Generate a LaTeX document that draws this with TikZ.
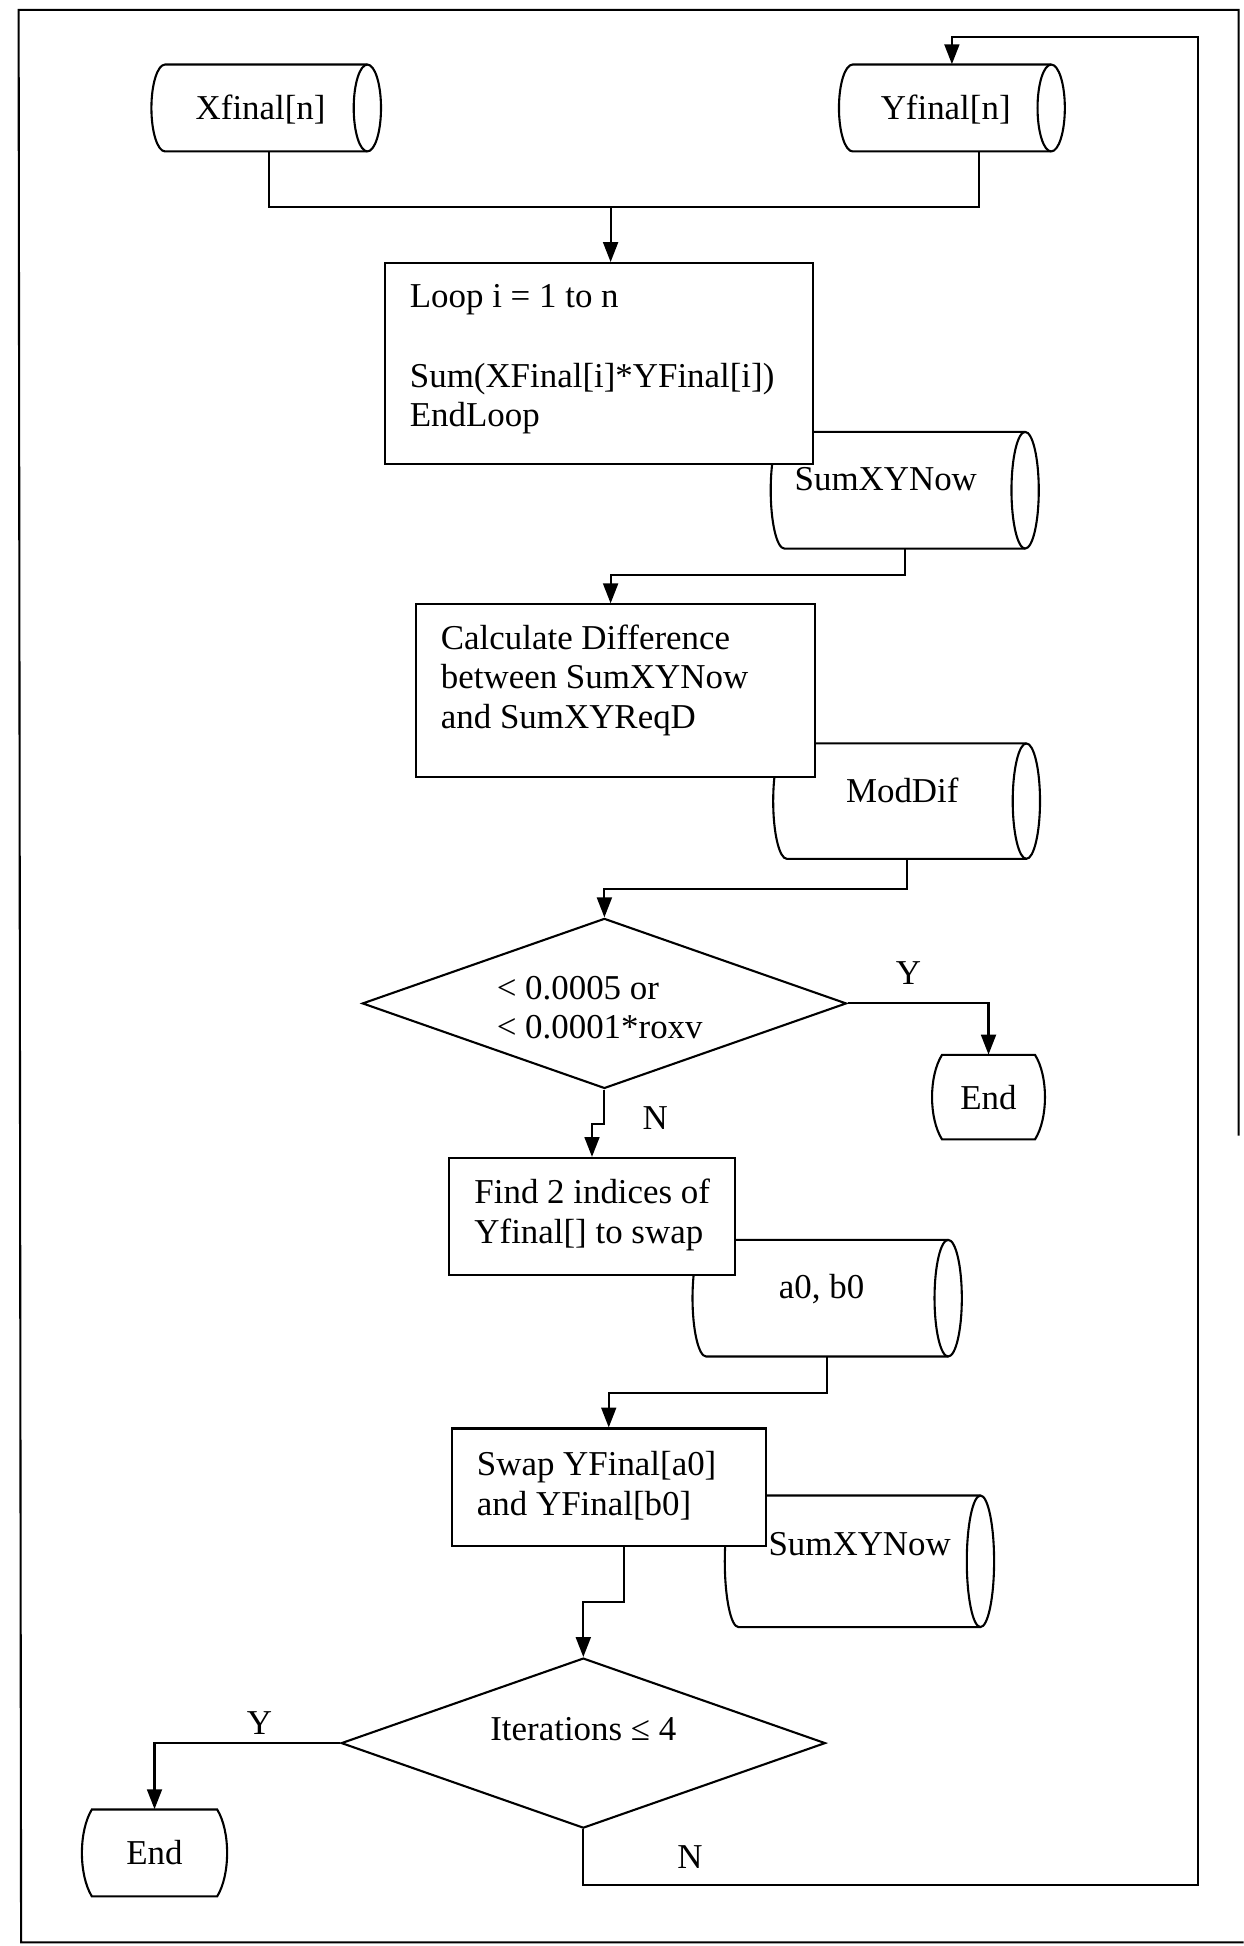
\documentclass[tikz,border=0pt]{standalone}
\usepackage{fontspec}
\setmainfont{Liberation Serif}
\usetikzlibrary{arrows.meta,calc,shapes.geometric}

\newcommand\fsz{\fontsize{20}{22.76}\selectfont}

% horizontal storage drum: name, left, top, right, bottom, cap x-radius
\newcommand\drum[6]{%
  \draw[ln, fill=white] ({#2+#6},-#3) -- ({#4-#6},-#3)
    arc[start angle=90, end angle=-90, x radius=#6, y radius={(#5-#3)/2}]
    -- ({#2+#6},-#5)
    arc[start angle=270, end angle=90, x radius=#6, y radius={(#5-#3)/2}] -- cycle;
  \draw[ln] ({#4-#6},-#3)
    arc[start angle=90, end angle=270, x radius=#6, y radius={(#5-#3)/2}];
  \node[inner sep=0pt, minimum width={(#4-#2)*0.025cm},
        minimum height={(#5-#3)*0.025cm}] (#1) at ({(#2+#4)/2},{-(#3+#5)/2}) {};
}

% terminal with bulging sides: name, left, top, right, bottom, label
\newcommand\terminal[6]{%
  \draw[ln, fill=white] ({#2+8},-#3) -- ({#4-8},-#3)
    .. controls ({#4+8/3},{-#3-(#5-#3)*0.25}) and ({#4+8/3},{-#5+(#5-#3)*0.25}) .. ({#4-8},-#5)
    -- ({#2+8},-#5)
    .. controls ({#2-8/3},{-#5+(#5-#3)*0.25}) and ({#2-8/3},{-#3-(#5-#3)*0.25}) .. cycle;
  \node[inner sep=0pt, minimum width={(#4-#2)*0.025cm},
        minimum height={(#5-#3)*0.025cm}] (#1) at ({(#2+#4)/2},{-(#3+#5)/2}) {#6};
}

\tikzset{
  ln/.style={line width=1.2pt},
  procbox/.style={draw, rectangle, fill=white, line width=1.2pt, inner sep=0pt},
  decision/.style={draw, diamond, fill=white, line width=1.2pt, inner sep=0pt},
  txt/.style={inner sep=0pt, align=left},
  arr/.style={line width=1.2pt, -{Triangle[length=0.4cm, width=0.3cm]}},
  every node/.style={font=\fsz},
}

\begin{document}
\begin{tikzpicture}[x=0.025cm, y=0.025cm]
\useasboundingbox (0,0) rectangle (1002,-1568);

% page frame
\draw[ln] (1002,-1565) -- (17,-1565) -- (15,-8) -- (998,-8) -- (998,-915);

% data stores
\drum{xf}{122}{52}{307}{122}{11}
\drum{yf}{676}{52}{858}{122}{11}
\drum{s1}{621}{348}{837}{442}{11}
\drum{md}{623}{599}{838}{692}{11}
\drum{ab}{558}{999}{775}{1093}{11}
\drum{s2}{584}{1205}{801}{1311}{11}

% process boxes
\node[procbox, minimum width=8.625cm, minimum height=4.05cm]  (loop) at (482.5,-293) {};
\node[procbox, minimum width=8.05cm,  minimum height=3.475cm] (calc) at (496,-556.5) {};
\node[procbox, minimum width=5.75cm,  minimum height=2.35cm]  (find) at (477,-980) {};
\node[procbox, minimum width=6.325cm, minimum height=2.375cm] (swap) at (490.5,-1198.5) {};

% decisions
\node[decision, minimum width=9.75cm, minimum height=3.425cm] (d1) at (487,-808.5) {};
\node[decision, minimum width=9.75cm, minimum height=3.425cm] (d2) at (470,-1404.5) {};

% terminals
\terminal{e1}{751}{850}{842}{918}{End}
\terminal{e2}{66}{1458}{183}{1528}{End}

% texts
\node[txt] (xft) at (210,-88) {Xfinal[n]};
\node[txt] (yft) at (762,-88) {Yfinal[n]};
\node[txt, anchor=north west] (loopt) at (330,-229)
  {Loop i = 1 to n\\[0.8cm]Sum(XFinal[i]*YFinal[i])\\EndLoop};
\node[txt, anchor=west] (s1t) at (640,-386) {SumXYNow};
\node[txt, anchor=north west] (calct) at (355,-503)
  {Calculate Difference\\between SumXYNow\\and SumXYReqD};
\node[txt] (mdt) at (727,-637) {ModDif};
\node[txt, anchor=north west] (d1t) at (400,-786) {< 0.0005 or\\< 0.0001*roxv};
\node[txt, anchor=north west] (findt) at (382,-950) {Find 2 indices of\\Yfinal[] to swap};
\node[txt] (abt) at (662,-1039) {a0, b0};
\node[txt, anchor=north west] (swapt) at (384,-1169) {Swap YFinal[a0]\\and YFinal[b0]};
\node[txt, anchor=west] (s2t) at (619,-1244) {SumXYNow};
\node[txt] (d2t) at (470,-1393) {Iterations ≤ 4};

% branch labels
\node[txt] (y1) at (732,-784) {Y};
\node[txt] (n1) at (528,-901) {N};
\node[txt] (y2) at (209,-1388) {Y};
\node[txt] (n2) at (556,-1496) {N};

% connectors
\coordinate (join) at (492,-167);
\draw[ln] ($(xf.south)+(2,0)$) |- (join) -| ($(yf.south)+(22,0)$);
\draw[arr] (join) -- (join |- loop.north);
\draw[arr] (s1.south) -- ++(0,-21) -| ($(calc.north)+(-4,0)$);
\draw[arr] (md.south) -- ++(0,-24) -| (d1.north);
\draw[arr] (d1.east) -| (e1.north);
\draw[arr] (d1.south) -- ++(0,-28) -| (find.north);
\draw[arr] (ab.south) -- ++(0,-29) -| (swap.north);
\draw[arr] ($(swap.south)+(12.5,0)$) -- ++(0,-44) -| (d2.north);
\draw[arr] (d2.west) -| (e2.north);
\coordinate (rb) at (965,-1519);
\coordinate (rt) at (965,-30);
\draw[arr] (d2.south) |- (rb) -- (rt) -| (yf.north);
\end{tikzpicture}
\end{document}
